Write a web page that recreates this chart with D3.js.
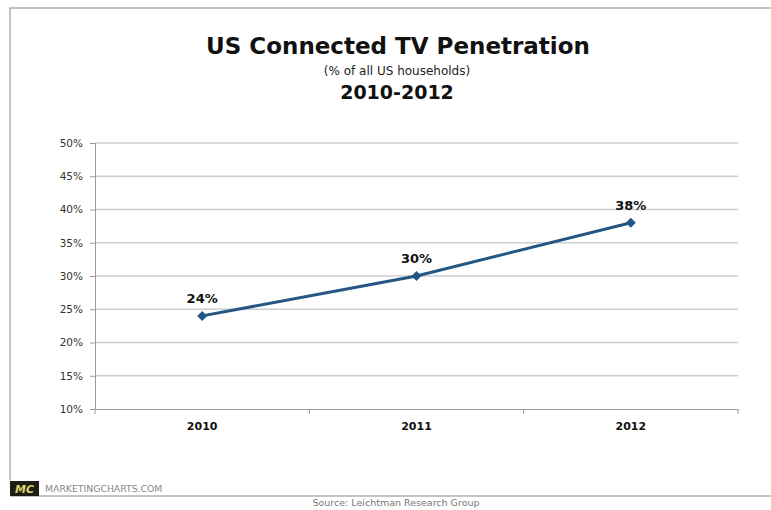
<!DOCTYPE html>
<html>
<head>
  <style>
    body { margin: 0; background: #fff; }
    svg { font-family: "DejaVu Sans", Verdana, sans-serif; }
  </style>
</head>
<body>
  <script src="https://d3js.org/d3.v7.min.js"></script>
  <script>
    const years = ["2010", "2011", "2012"];
    const penetration = [24, 30, 38];
    const yTicks = [10, 15, 20, 25, 30, 35, 40, 45, 50];

    const width = 771, height = 510;
    const margin = { top: 143, left: 95, right: 33, bottom: 101 };
    const innerW = width - margin.left - margin.right;
    const innerH = height - margin.top - margin.bottom;

    const svg = d3.select("body").append("svg")
      .attr("width", width)
      .attr("height", height);

    // frame
    svg.append("path")
      .attr("d", `M10,480 L10,8 L771,8`)
      .attr("fill", "none")
      .attr("stroke", "#b0b0b0")
      .attr("stroke-width", 1.5);
    svg.append("line")
      .attr("x1", 10).attr("x2", 771).attr("y1", 496).attr("y2", 496)
      .attr("stroke", "#b0b0b0").attr("stroke-width", 1.5);

    // titles
    svg.append("text").attr("x", 398).attr("y", 54)
      .attr("text-anchor", "middle").attr("font-weight", "bold")
      .attr("font-size", 23).attr("fill", "#111")
      .text("US Connected TV Penetration");
    svg.append("text").attr("x", 397).attr("y", 75)
      .attr("text-anchor", "middle").attr("font-size", 12).attr("fill", "#222")
      .text("(% of all US households)");
    svg.append("text").attr("x", 397).attr("y", 99)
      .attr("text-anchor", "middle").attr("font-weight", "bold")
      .attr("font-size", 19).attr("fill", "#111")
      .text("2010-2012");

    const g = svg.append("g")
      .attr("transform", `translate(${margin.left},${margin.top})`);

    const x = d3.scaleBand().domain(years).range([0, innerW]);
    const y = d3.scaleLinear().domain([10, 50]).range([innerH, 0]);

    // gridlines
    g.selectAll(".grid")
      .data(yTicks.slice(1))
      .enter().append("line")
      .attr("x1", 0).attr("x2", innerW)
      .attr("y1", d => y(d)).attr("y2", d => y(d))
      .attr("stroke", "#cccccc").attr("stroke-width", 1.5);

    const yAxis = g.append("g")
      .call(d3.axisLeft(y).tickValues(yTicks).tickFormat(d => d + "%").tickSize(5).tickPadding(7));
    yAxis.selectAll("text").attr("font-size", 10.5).attr("fill", "#333")
      .attr("font-family", "DejaVu Sans, sans-serif");
    yAxis.selectAll("line, path").attr("stroke", "#999");

    const xAxis = g.append("g")
      .attr("transform", `translate(0,${innerH})`)
      .call(d3.axisBottom(x).tickSize(0).tickPadding(13));
    xAxis.selectAll("text").attr("font-size", 11).attr("font-weight", "bold")
      .attr("fill", "#111").attr("font-family", "DejaVu Sans, sans-serif");
    xAxis.select("path").attr("stroke", "#999");
    // band boundary ticks
    xAxis.selectAll(".bt")
      .data(years.map(d => x(d)).concat([innerW]))
      .enter().append("line")
      .attr("x1", d => d).attr("x2", d => d)
      .attr("y1", 0).attr("y2", 5)
      .attr("stroke", "#999");

    const line = d3.line()
      .x((d, i) => x(years[i]) + x.bandwidth() / 2)
      .y(d => y(d));

    g.append("path")
      .datum(penetration)
      .attr("d", line)
      .attr("fill", "none")
      .attr("stroke", "#245683")
      .attr("stroke-width", 3);

    g.selectAll(".pt")
      .data(penetration)
      .enter().append("path")
      .attr("d", d3.symbol().type(d3.symbolSquare).size(50))
      .attr("transform", (d, i) => `translate(${x(years[i]) + x.bandwidth() / 2},${y(d)}) rotate(45)`)
      .attr("fill", "#245683");

    g.selectAll(".lbl")
      .data(penetration)
      .enter().append("text")
      .attr("x", (d, i) => x(years[i]) + x.bandwidth() / 2)
      .attr("y", d => y(d) - 13)
      .attr("text-anchor", "middle")
      .attr("font-size", 13).attr("font-weight", "bold").attr("fill", "#111")
      .text(d => d + "%");

    // footer
    svg.append("rect").attr("x", 10).attr("y", 481).attr("width", 29).attr("height", 15)
      .attr("fill", "#1e1e14");
    svg.append("text").attr("x", 24.5).attr("y", 493)
      .attr("text-anchor", "middle").attr("font-size", 11).attr("font-weight", "bold")
      .attr("font-style", "italic").attr("fill", "#d8d870")
      .text("MC");
    svg.append("text").attr("x", 45).attr("y", 492)
      .attr("font-size", 9.3).attr("fill", "#888")
      .text("MARKETINGCHARTS.COM");
    svg.append("text").attr("x", 396).attr("y", 506)
      .attr("text-anchor", "middle").attr("font-size", 9.5).attr("fill", "#777")
      .text("Source:  Leichtman Research Group");
  </script>
</body>
</html>
